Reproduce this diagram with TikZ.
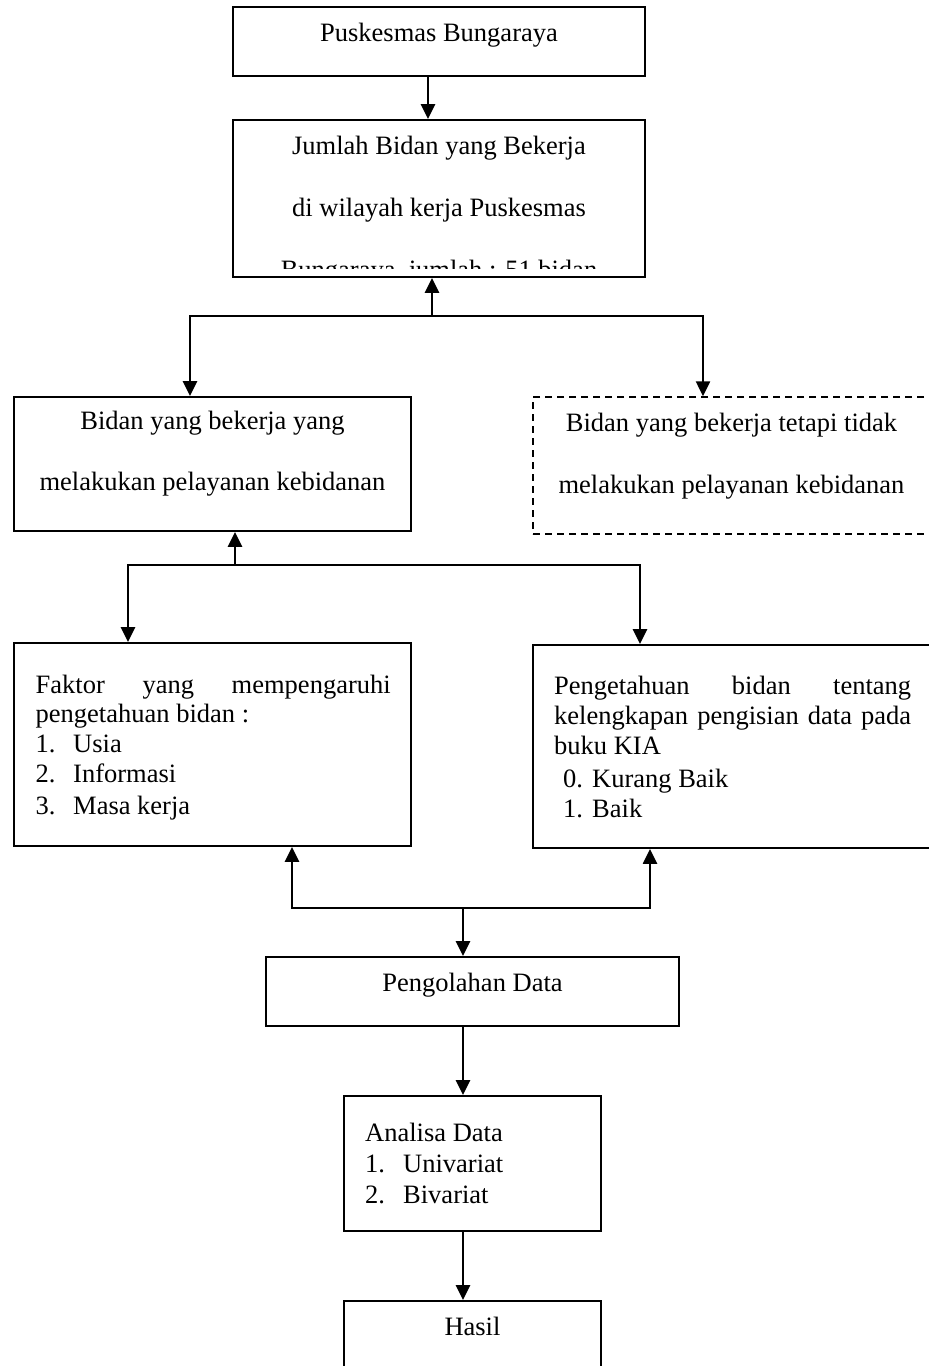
\documentclass[tikz,border=0pt]{standalone}
\usepackage{fontspec}
\setmainfont{Liberation Serif}
\usetikzlibrary{arrows.meta}
\begin{document}
\begin{tikzpicture}[x=1pt,y=-1pt,
  box/.style={draw, line width=1.9pt, inner sep=0pt, rectangle},
  dashbox/.style={box, line width=1.5pt, dash pattern=on 7pt off 5pt},
  txt/.style={inner sep=0pt, anchor=base, font=\fontsize{26.5}{30}\selectfont},
  txtl/.style={txt, anchor=base west},
  arr/.style={line width=2.5pt, -{Triangle[length=15pt,width=14pt]}}
]
\useasboundingbox (0,0) rectangle (929,1366);
\clip (0,0) rectangle (929,1366);

% boxes
\node[box, minimum width=412pt, minimum height=69pt] (b1) at (439,41.5) {};
\node[box, minimum width=412pt, minimum height=157pt] (b2) at (439,198.5) {};
\node[box, minimum width=397pt, minimum height=134pt] (b3) at (212.5,464) {};
\node[dashbox, minimum width=397pt, minimum height=137pt] (b3d) at (731.5,465.5) {};
\node[box, minimum width=397pt, minimum height=203pt] (b4) at (212.5,744.5) {};
\node[box, minimum width=397pt, minimum height=203pt] (b5) at (731.5,746.5) {};
\node[box, minimum width=413pt, minimum height=69pt] (b6) at (472.5,991.5) {};
\node[box, minimum width=257pt, minimum height=135pt] (b7) at (472.5,1163.5) {};
\node[box, minimum width=257pt, minimum height=100pt] (b8) at (472.5,1351) {};

% texts
\node[txt] (t1) at (439,41) {Puskesmas Bungaraya};
\node[txt] (t2a) at (439,154) {Jumlah Bidan yang Bekerja};
\node[txt] (t2b) at (439,216) {di wilayah kerja Puskesmas};
\begin{scope}
  \clip (233,120) rectangle (645,268);
  \node[txt] (t2c) at (439,278) {Bungaraya, jumlah : 51 bidan};
\end{scope}
\node[txt] (t3a) at (212.5,429) {Bidan yang bekerja yang};
\node[txt] (t3b) at (212.5,490) {melakukan pelayanan kebidanan};
\node[txt] (t3c) at (731.5,431) {Bidan yang bekerja tetapi tidak};
\node[txt] (t3d) at (731.5,493) {melakukan pelayanan kebidanan};

\node[txtl] (t4a) at (35.5,693) {\makebox[355pt][s]{Faktor yang mempengaruhi}};
\node[txtl] (t4b) at (35.5,722) {pengetahuan bidan :};
\node[txtl] (t4c) at (35.5,752) {1.};
\node[txtl] (t4d) at (73,752) {Usia};
\node[txtl] (t4e) at (35.5,782) {2.};
\node[txtl] (t4f) at (73,782) {Informasi};
\node[txtl] (t4g) at (35.5,814) {3.};
\node[txtl] (t4h) at (73,814) {Masa kerja};

\node[txtl] (t5a) at (554,694) {\makebox[357pt][s]{Pengetahuan bidan tentang}};
\node[txtl] (t5b) at (554,724) {\makebox[357pt][s]{kelengkapan pengisian data pada}};
\node[txtl] (t5c) at (554,754) {buku KIA};
\node[txtl] (t5d) at (563,787) {0.};
\node[txtl] (t5e) at (592,787) {Kurang Baik};
\node[txtl] (t5f) at (563,817) {1.};
\node[txtl] (t5g) at (592,817) {Baik};

\node[txt] (t6) at (472.5,991) {Pengolahan Data};
\node[txtl] (t7a) at (365,1141) {Analisa Data};
\node[txtl] (t7b) at (365,1172) {1.};
\node[txtl] (t7c) at (403,1172) {Univariat};
\node[txtl] (t7d) at (365,1203) {2.};
\node[txtl] (t7e) at (403,1203) {Bivariat};
\node[txt] (t8) at (472.5,1335) {Hasil};

% junctions
\coordinate (j1) at (432,316);
\coordinate (j2) at (235,565);
\coordinate (j3) at (463,908);

% connectors
\draw[arr] (428,0 |- b1.south) -- (428,0 |- b2.north);
\draw[arr] (j1) -- (j1 |- b2.south);
\draw[arr] (j1) -| (190,0 |- b3.north);
\draw[arr] (j1) -| (703,0 |- b3d.north);
\draw[arr] (j2) -- (j2 |- b3.south);
\draw[arr] (j2) -| (128,0 |- b4.north);
\draw[arr] (j2) -| (640,0 |- b5.north);
\draw[arr] (j3) -| (292,0 |- b4.south);
\draw[arr] (j3) -| (650,0 |- b5.south);
\draw[arr] (j3) -- (j3 |- b6.north);
\draw[arr] (463,0 |- b6.south) -- (463,0 |- b7.north);
\draw[arr] (463,0 |- b7.south) -- (463,0 |- b8.north);
\end{tikzpicture}
\end{document}
